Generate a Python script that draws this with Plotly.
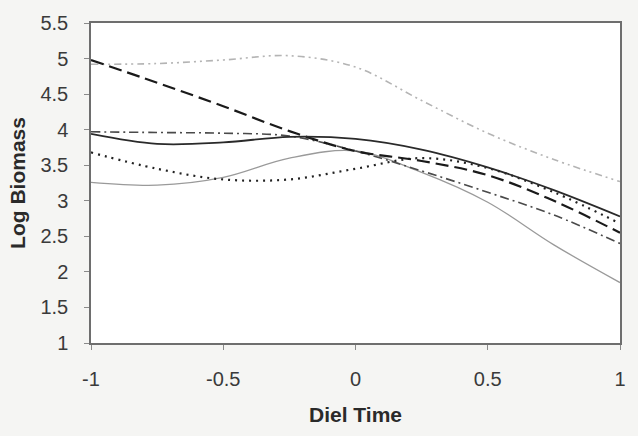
import plotly.graph_objects as go

# Diel time points (fraction of the diel cycle)
diel_time = [-1, -0.75, -0.5, -0.25, 0, 0.25, 0.5, 0.75, 1]

# Log biomass for each group
solid_dark = [3.94, 3.80, 3.82, 3.90, 3.87, 3.72, 3.47, 3.15, 2.78]
solid_gray = [3.26, 3.22, 3.33, 3.60, 3.70, 3.40, 2.98, 2.38, 1.85]
long_dash = [4.98, 4.66, 4.33, 3.98, 3.70, 3.56, 3.36, 3.00, 2.55]
dotted = [3.68, 3.45, 3.30, 3.30, 3.45, 3.60, 3.46, 3.12, 2.68]
dash_dot = [3.97, 3.96, 3.95, 3.91, 3.70, 3.42, 3.12, 2.80, 2.40]
gray_dash_dot_dot = [4.92, 4.93, 4.98, 5.04, 4.88, 4.41, 3.95, 3.58, 3.27]

x_ticks = [-1, -0.5, 0, 0.5, 1]
y_ticks = [1, 1.5, 2, 2.5, 3, 3.5, 4, 4.5, 5, 5.5]

series = [
    (gray_dash_dot_dot, "#b4b4b4", 1.6, "7px,4px,2px,4px,2px,4px"),
    (solid_gray, "#9a9a9a", 1.3, "solid"),
    (dash_dot, "#4a4a4a", 1.6, "9px,4px,2px,4px"),
    (dotted, "#222222", 2.2, "2px,5px"),
    (long_dash, "#1a1a1a", 2.2, "13px,6px"),
    (solid_dark, "#2a2a2a", 1.8, "solid"),
]

fig = go.Figure()
for values, color, width, dash in series:
    fig.add_trace(go.Scatter(
        x=diel_time, y=values, mode="lines",
        line=dict(color=color, width=width, dash=dash, shape="spline", smoothing=1.0),
        showlegend=False, hoverinfo="skip",
    ))

font_family = "Liberation Sans, Arial, sans-serif"

fig.update_layout(
    width=638, height=436,
    margin=dict(l=91, r=14, t=19, b=93),
    paper_bgcolor="#f5f5f3",
    plot_bgcolor="#ffffff",
    font=dict(family=font_family, size=20, color="#3a3a3a"),
    xaxis=dict(
        range=[-1, 1], tickvals=x_ticks, ticktext=[f"{v:g}" for v in x_ticks],
        showgrid=False, zeroline=False,
        showline=True, linecolor="#6e6e6e", linewidth=1.5, mirror=True,
        ticks="outside", ticklen=5, tickcolor="#8a8a8a",
        ticklabelstandoff=12,
        title=dict(text="<b>Diel Time</b>", font=dict(size=21, color="#2a2a2a"), standoff=19),
    ),
    yaxis=dict(
        range=[1, 5.5], tickvals=y_ticks, ticktext=[f"{v:g}" for v in y_ticks],
        showgrid=False, zeroline=False,
        showline=True, linecolor="#6e6e6e", linewidth=1.5, mirror=True,
        ticks="outside", ticklen=5, tickcolor="#8a8a8a",
        ticklabelstandoff=12,
        title=dict(text="<b>Log Biomass</b>", font=dict(size=21, color="#2a2a2a"), standoff=9),
    ),
)

fig.write_html("out.html")
